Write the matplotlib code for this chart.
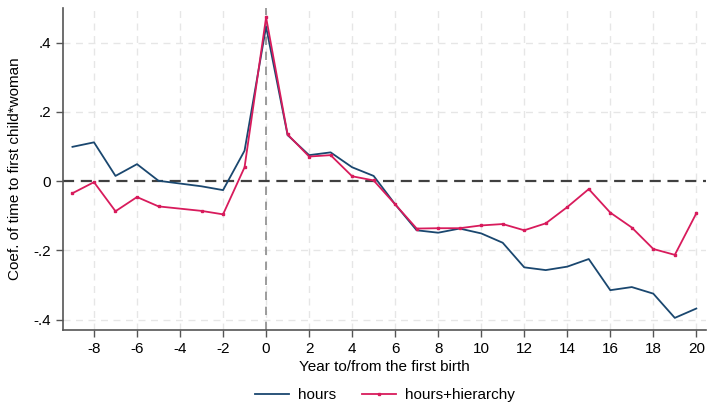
import numpy as np
import matplotlib
matplotlib.use("Agg")
import matplotlib.pyplot as plt

# event time (no estimate at -4)
years = [-9, -8, -7, -6, -5, -3, -2, -1, 0, 1, 2, 3, 4, 5, 6, 7, 8, 9,
         10, 11, 12, 13, 14, 15, 16, 17, 18, 19, 20]
hours = [0.099, 0.112, 0.015, 0.049, 0.001, -0.015, -0.026, 0.088, 0.446,
         0.133, 0.075, 0.083, 0.040, 0.015, -0.067, -0.142, -0.149, -0.137,
         -0.151, -0.178, -0.249, -0.257, -0.247, -0.225, -0.315, -0.306,
         -0.325, -0.395, -0.368]
hours_hier = [-0.035, -0.003, -0.087, -0.046, -0.073, -0.086, -0.096, 0.040,
              0.473, 0.135, 0.071, 0.075, 0.014, 0.002, -0.067, -0.137,
              -0.136, -0.136, -0.128, -0.124, -0.142, -0.122, -0.075, -0.023,
              -0.091, -0.134, -0.196, -0.213, -0.093]
xticks = list(range(-8, 21, 2))
yticks = [-0.4, -0.2, 0, 0.2, 0.4]
ytick_labels = ["-.4", "-.2", "0", ".2", ".4"]

plt.rcParams["font.family"] = ["Liberation Sans", "DejaVu Sans"]
plt.rcParams["axes.unicode_minus"] = False

fig = plt.figure(figsize=(7.09, 4.05), dpi=100)
ax = fig.add_axes([63 / 709, 1 - 330 / 405, 643 / 709, 322 / 405])

grid_kw = dict(color="#e6e6e6", lw=1.0, ls=(0, (5, 4)), zorder=0)
for x in xticks:
    ax.axvline(x, **grid_kw)
for y in yticks:
    if y != 0:
        ax.axhline(y, **grid_kw)

ax.axvline(0, color="#8c8c8c", lw=1.2, ls=(0, (5, 4)), zorder=1)
ax.axhline(0, color="#404040", lw=1.6, ls=(0, (5, 3)), zorder=1)

ax.plot(years, hours, color="#1a476f", lw=1.3, label="hours", zorder=3)
ax.plot(years, hours_hier, color="#d81b5c", lw=1.3, marker="s", ms=2,
        label="hours+hierarchy", zorder=4)

ax.set_xlim(-9.44, 20.45)
ax.set_ylim(-0.43, 0.5)
ax.set_xticks(xticks)
ax.set_yticks(yticks)
ax.set_yticklabels(ytick_labels)
ax.tick_params(labelsize=11, length=5, color="#555555", width=1)

for s in ["top", "right"]:
    ax.spines[s].set_visible(False)
for s in ["left", "bottom"]:
    ax.spines[s].set_color("#555555")
    ax.spines[s].set_linewidth(1.2)

ax.set_xlabel("Year to/from the first birth", fontsize=11, labelpad=3)
ax.set_ylabel("Coef. of time to first child*woman", fontsize=11, labelpad=8)

fig.legend(*ax.get_legend_handles_labels(), loc="center",
           bbox_to_anchor=(385 / 709, 1 - 395 / 405), ncol=2,
           frameon=False, fontsize=11, handlelength=2.2, handletextpad=0.6,
           columnspacing=1.7, borderpad=0.1)

fig.savefig("out.png", dpi=100)
